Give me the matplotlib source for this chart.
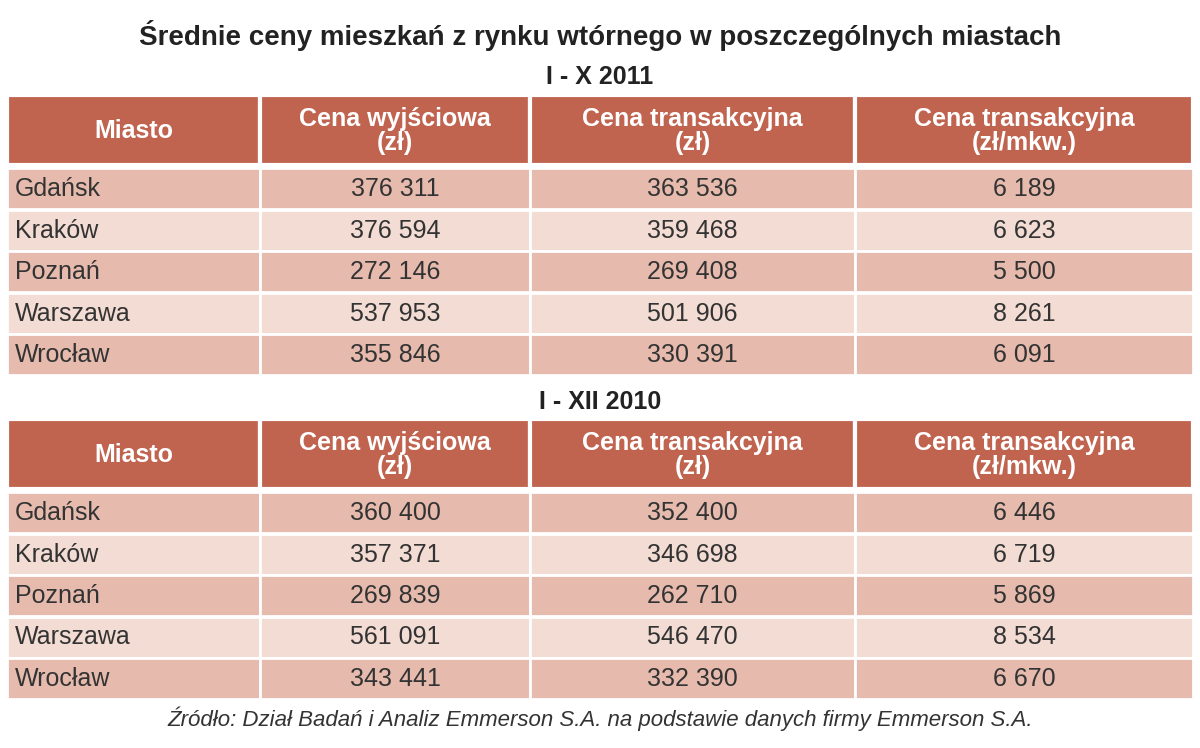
import matplotlib.pyplot as plt
from matplotlib.patches import Rectangle

plt.rcParams['font.family'] = 'Liberation Sans'

# Table data
title = 'Średnie ceny mieszkań z rynku wtórnego w poszczególnych miastach'
periods = ['I - X 2011', 'I - XII 2010']
headers = ['Miasto', 'Cena wyjściowa\n(zł)', 'Cena transakcyjna\n(zł)', 'Cena transakcyjna\n(zł/mkw.)']
cities = ['Gdańsk', 'Kraków', 'Poznań', 'Warszawa', 'Wrocław']
start_2011 = ['376 311', '376 594', '272 146', '537 953', '355 846']
trans_2011 = ['363 536', '359 468', '269 408', '501 906', '330 391']
sqm_2011 = ['6 189', '6 623', '5 500', '8 261', '6 091']
start_2010 = ['360 400', '357 371', '269 839', '561 091', '343 441']
trans_2010 = ['352 400', '346 698', '262 710', '546 470', '332 390']
sqm_2010 = ['6 446', '6 719', '5 869', '8 534', '6 670']
source = 'Źródło: Dział Badań i Analiz Emmerson S.A. na podstawie danych firmy Emmerson S.A.'

header_color = '#C0634F'
row_colors = ['#E6BBAD', '#F2DCD3']
col_edges = [7, 260, 530, 855, 1193]

fig = plt.figure(figsize=(12, 7.48), dpi=100)
ax = fig.add_axes([0, 0, 1, 1])
ax.set_xlim(0, 1200)
ax.set_ylim(748, 0)
ax.axis('off')

ax.text(600, 35, title, ha='center', va='center', fontsize=20, fontweight='bold', color='#222222')


def draw_table(top, cols):
    # header
    for i in range(4):
        x0, x1 = col_edges[i], col_edges[i + 1]
        ax.add_patch(Rectangle((x0, top), x1 - x0, 70, facecolor=header_color, edgecolor='white', lw=3))
        ax.text((x0 + x1) / 2, top + 36, headers[i], ha='center', va='center', fontsize=18,
                fontweight='bold', color='white', linespacing=1.05)
    y = top + 73
    for r, city in enumerate(cities):
        values = [city] + [c[r] for c in cols]
        for i in range(4):
            x0, x1 = col_edges[i], col_edges[i + 1]
            ax.add_patch(Rectangle((x0, y), x1 - x0, 41, facecolor=row_colors[r % 2], edgecolor='white', lw=2))
            if i == 0:
                ax.text(x0 + 8, y + 21, values[i], ha='left', va='center', fontsize=18, color='#333333')
            else:
                ax.text((x0 + x1) / 2, y + 21, values[i], ha='center', va='center', fontsize=18, color='#333333')
        y += 41.5


ax.text(600, 77, periods[0], ha='center', va='center', fontsize=18, fontweight='bold', color='#222222')
draw_table(95, [start_2011, trans_2011, sqm_2011])
ax.text(600, 402, periods[1], ha='center', va='center', fontsize=18, fontweight='bold', color='#222222')
draw_table(419, [start_2010, trans_2010, sqm_2010])
ax.text(600, 719, source, ha='center', va='center', fontsize=16, style='italic', color='#333333')

fig.savefig('out.png', dpi=100, facecolor='white')
